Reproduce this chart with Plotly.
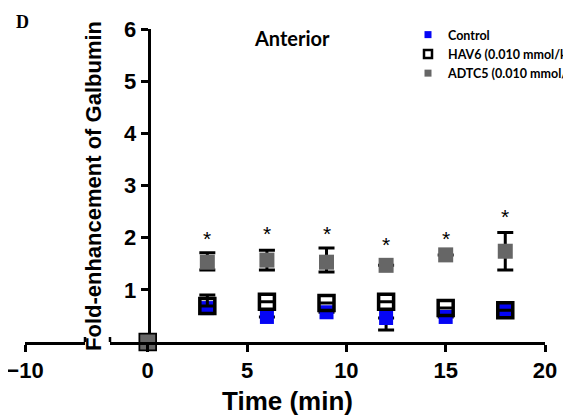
import plotly.graph_objects as go

# ---- data ----
times = [0, 3, 6, 9, 12, 15, 18]
control = [0, 0.65, 0.48, 0.57, 0.46, 0.48, 0.60]
control_err_minus = [0, 0, 0, 0, 0.23, 0, 0]
control_err_plus = [0, 0, 0, 0, 0, 0, 0]
hav6 = [0, 0.69, 0.77, 0.75, 0.77, 0.65, 0.61]
hav6_err_plus = [0, 0.21, 0, 0, 0, 0, 0]
hav6_err_minus = [0, 0, 0, 0, 0, 0, 0]
adtc5 = [0, 1.53, 1.57, 1.53, 1.47, 1.67, 1.74]
adtc5_err_plus = [0, 0.18, 0.19, 0.27, 0, 0, 0.36]
adtc5_err_minus = [0, 0.15, 0.19, 0.19, 0, 0, 0.36]
star_times = [3, 6, 9, 12, 15, 18]
star_y = [2.08, 2.18, 2.18, 1.97, 2.08, 2.5]
x_ticks_main = [0, 5, 10, 15, 20]
x_ticks_left = [-10]
y_ticks = [1, 2, 3, 4, 5, 6]
names = ["Control", "HAV6 (0.010 mmol/kg)", "ADTC5 (0.010 mmol/kg)"]

BLUE = "#0505f5"
GRAY = "#666666"
FONT = "Liberation Sans, Arial, sans-serif"
LEG_FONT = "Lato, Open Sans, sans-serif"

# page body has an 8px margin; work in screen pixels and convert
OFF = 8
SW, SH = 571, 417
W, H = SW - OFF, SH - OFF
P_LEFT, P_RIGHT, P_TOP, P_BOTTOM = 25, 545, 29, 342   # screen px of plot area
ml = P_LEFT - OFF
mr = W - (P_RIGHT - OFF)
mt = P_TOP - OFF
mb = H - (P_BOTTOM - OFF)
pw = P_RIGHT - P_LEFT
ph = P_BOTTOM - P_TOP


def px_x(p):
    return (p - P_LEFT) / pw


def px_y(p):
    return (P_BOTTOM - p) / ph


fig = go.Figure()

err_style = dict(color="black", thickness=3, width=8)

fig.add_trace(go.Scatter(
    x=times, y=control, mode="markers", xaxis="x2", yaxis="y",
    marker=dict(symbol="square", size=14, color=BLUE),
    error_y=dict(type="data", symmetric=False, array=control_err_plus,
                 arrayminus=control_err_minus, **err_style),
    showlegend=False, cliponaxis=False))
fig.add_trace(go.Scatter(
    x=times, y=hav6, mode="markers", xaxis="x2", yaxis="y",
    marker=dict(symbol="square-open", size=15, color="black", line=dict(width=3.5, color="black")),
    error_y=dict(type="data", symmetric=False, array=hav6_err_plus,
                 arrayminus=hav6_err_minus, **err_style),
    showlegend=False, cliponaxis=False))
fig.add_trace(go.Scatter(
    x=times, y=adtc5, mode="markers", xaxis="x2", yaxis="y",
    marker=dict(symbol="square", size=15, color=GRAY),
    error_y=dict(type="data", symmetric=False, array=adtc5_err_plus,
                 arrayminus=adtc5_err_minus, **err_style),
    showlegend=False, cliponaxis=False))

# legend entries (the first one also creates the left axis segment)
fig.add_trace(go.Scatter(x=[None], y=[None], mode="markers", xaxis="x", yaxis="y", name=names[0],
                         marker=dict(symbol="square", size=7, color=BLUE)))
fig.add_trace(go.Scatter(x=[None], y=[None], mode="markers", xaxis="x2", yaxis="y", name=names[1],
                         marker=dict(symbol="square-open", size=8, color="black", line=dict(width=2.5, color="black"))))
fig.add_trace(go.Scatter(x=[None], y=[None], mode="markers", xaxis="x2", yaxis="y", name=names[2],
                         marker=dict(symbol="square", size=7, color=GRAY)))

# significance stars
for t, s in zip(star_times, star_y):
    fig.add_annotation(x=t, y=s, xref="x2", yref="y", text="*", showarrow=False,
                       font=dict(family=FONT, size=21, color="black"), yshift=-5)

axis_common = dict(showline=True, linecolor="black", linewidth=2.5, ticks="outside",
                   ticklen=7, tickwidth=2.5, tickcolor="black", showgrid=False, zeroline=False,
                   ticklabeloverflow="allow",
                   tickfont=dict(family=FONT, size=22, color="black", weight="bold"))

fig.update_layout(
    width=W, height=H,
    margin=dict(l=ml, r=mr, t=mt, b=mb, autoexpand=False),
    paper_bgcolor="white", plot_bgcolor="white",
    xaxis=dict(domain=[0, px_x(85)], range=[-10, -6.98], tickvals=x_ticks_left,
               anchor="y", **axis_common),
    xaxis2=dict(domain=[px_x(110), 1], range=[-1.9, 20], tickvals=x_ticks_main,
                anchor="y", **axis_common),
    yaxis=dict(domain=[0, 1], range=[0, 6], tickvals=y_ticks, anchor="free",
               position=px_x(148.5), **axis_common),
    legend=dict(x=px_x(408), y=px_y(20), xanchor="left", yanchor="top",
                font=dict(family=LEG_FONT, size=12.5, color="black", weight="bold"),
                bgcolor="rgba(0,0,0,0)", tracegroupgap=0, itemwidth=30),
    showlegend=True,
)

# axis break caps
fig.add_shape(type="line", xref="x domain", yref="y", x0=1, x1=1, y0=-5, y1=5,
              ysizemode="pixel", yanchor=0, line=dict(color="black", width=2.5))
fig.add_shape(type="line", xref="x2 domain", yref="y", x0=0, x1=0, y0=-5, y1=5,
              ysizemode="pixel", yanchor=0, line=dict(color="black", width=2.5))

# texts
fig.add_annotation(x=px_x(93), y=px_y(186), xref="paper", yref="paper", text="Fold-enhancement of Galbumin",
                   textangle=-90, showarrow=False, xanchor="center", yanchor="middle",
                   font=dict(family=FONT, size=22, color="black", weight="bold"))
fig.add_annotation(x=px_x(287), y=px_y(401), xref="paper", yref="paper", text="Time (min)",
                   showarrow=False, xanchor="center", yanchor="middle",
                   font=dict(family=FONT, size=26, color="black", weight="bold"))
fig.add_annotation(x=px_x(292), y=px_y(38), xref="paper", yref="paper", text="Anterior",
                   showarrow=False, xanchor="center", yanchor="middle",
                   font=dict(family=LEG_FONT, size=20, color="black", weight="bold"))
fig.add_annotation(x=px_x(22), y=px_y(22), xref="paper", yref="paper", text="D",
                   showarrow=False, xanchor="center", yanchor="middle",
                   font=dict(family="Liberation Serif, Times New Roman, serif", size=18,
                             color="black", weight="bold"))

fig.write_html("out.html")
